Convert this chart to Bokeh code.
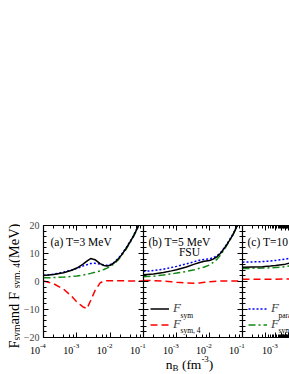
import numpy as np
from bokeh.plotting import figure
from bokeh.layouts import row, column
from bokeh.models import (Range1d, LinearAxis, LogAxis, LogTicker, FixedTicker, Label, Legend,
                          LegendItem, CustomJSTickFormatter)
from bokeh.embed import file_html
from bokeh.resources import INLINE

# ---------------- data ----------------
nB_a = [1e-4, 2e-4, 4e-4, 7e-4, 1e-3, 1.5e-3, 2e-3, 2.6e-3, 3.5e-3, 5e-3, 6.5e-3, 8e-3,
        1e-2, 1.3e-2, 1.7e-2, 2.2e-2, 3e-2, 4e-2, 5e-2, 6.5e-2, 8e-2, 1e-1]
Fsym_a  = [2.1, 2.5, 3.1, 4.0, 4.8, 6.1, 7.3, 8.2, 7.8, 6.4, 5.7, 5.5,
           5.8, 6.6, 7.9, 9.5, 11.8, 14.2, 16.2, 19.0, 21.2, 24.0]
Fpara_a = [2.2, 2.6, 3.3, 4.1, 4.7, 5.5, 6.0, 6.4, 6.5, 6.2, 5.9, 5.8,
           6.0, 6.8, 8.1, 9.7, 12.0, 14.4, 16.4, 19.2, 21.4, 24.2]
FsymV_a = [1.3, 1.4, 1.6, 1.8, 2.0, 2.3, 2.6, 2.9, 3.3, 3.8, 4.3, 4.8,
           5.4, 6.3, 7.6, 9.2, 11.5, 14.0, 16.0, 18.8, 21.0, 23.8]
Fsym4_a = [0.2, -0.8, -2.7, -5.3, -7.3, -9.0, -9.7, -6.8, -3.3, -0.5, 0.2, 0.3,
           0.3, 0.3, 0.3, 0.3, 0.2, 0.2, 0.2, 0.2, 0.2, 0.2]

nB_b = [1e-4, 2e-4, 4e-4, 7e-4, 1e-3, 2e-3, 3.5e-3, 5e-3, 7e-3, 1e-2, 1.3e-2, 1.7e-2,
        2.2e-2, 3e-2, 4e-2, 5e-2, 6.5e-2, 8e-2, 1e-1]
Fsym_b  = [2.4, 2.7, 3.2, 3.8, 4.2, 5.2, 6.2, 6.8, 7.2, 7.5, 8.0, 8.9,
           10.2, 12.3, 14.6, 16.5, 19.2, 21.3, 24.0]
Fpara_b = [3.6, 3.9, 4.4, 5.0, 5.4, 6.3, 7.1, 7.6, 7.9, 8.1, 8.5, 9.2,
           10.4, 12.5, 14.8, 16.7, 19.4, 21.5, 24.2]
FsymV_b = [1.7, 1.9, 2.3, 2.7, 3.0, 3.6, 4.2, 4.7, 5.2, 5.9, 6.8, 8.0,
           9.6, 12.0, 14.4, 16.4, 19.1, 21.2, 24.0]
Fsym4_b = [0.4, 0.3, 0.1, -0.1, -0.3, -0.5, -0.6, -0.5, -0.3, -0.1, 0.0, 0.1,
           0.2, 0.2, 0.2, 0.2, 0.2, 0.2, 0.2]

nB_c = [1e-4, 2e-4, 4e-4, 7e-4, 1e-3, 2e-3, 3.5e-3, 5e-3, 1e-2, 2e-2, 5e-2, 1e-1]
Fsym_c  = [5.1, 5.2, 5.3, 5.5, 5.7, 6.2, 6.9, 7.4, 8.6, 10.8, 16.5, 24.0]
Fpara_c = [6.9, 7.0, 7.1, 7.3, 7.5, 8.0, 8.6, 9.1, 10.2, 12.0, 17.2, 24.3]
FsymV_c = [4.6, 4.7, 4.8, 4.9, 5.0, 5.3, 5.8, 6.2, 7.4, 9.8, 16.0, 23.8]
Fsym4_c = [0.8, 0.8, 0.8, 0.8, 0.8, 0.9, 0.9, 0.9, 0.8, 0.6, 0.4, 0.3]

panel_titles = ["(a) T=3 MeV", "(b) T=5 MeV", "(c) T=10 MeV"]
x_tick_values = [1e-4, 1e-3, 1e-2, 1e-1]
x_tick_exps = ["-4", "-3", "-2", "-1"]
y_ticks = [-20, -10, 0, 10, 20]
y_minor = [-18, -16, -14, -12, -8, -6, -4, -2, 2, 4, 6, 8, 12, 14, 16, 18]

FONT = "Liberation Serif"
BLACK, RED, BLUE, GREEN = "#000000", "#ff0000", "#0000ff", "#118811"

# Times advance widths (per em) for building composite labels
TW = {'F': .556, 's': .389, 'y': .5, 'm': .778, ' ': .25, 'a': .444, 'n': .5, 'd': .5,
      ',': .25, '4': .5, '(': .333, ')': .333, 'M': .889, 'e': .444, 'V': .722,
      'B': .667, 'f': .333, '-': .333, '3': .5}


def twidth(s, size):
    return sum(TW.get(c, .5) for c in s) * size


YS_W = 20                  # width of the strip holding the vertical title
FT, FB = 225, 337          # frame top/bottom on page
BB = 6                     # bottom border of the panels
Y0PIX = 281                # page y of value 0
PXU = (FB - FT) / 40.0     # px per unit
GEOM = {}                  # panel -> (frame left on page, px per decade)


def ydat(py):
    return (Y0PIX - py) / PXU


def make_panel(fw, x_end, left_border, L, dec):
    p = figure(x_axis_type="log", x_range=Range1d(1e-4, x_end), y_range=Range1d(-20, 20),
               frame_width=fw, frame_height=FB - FT, output_backend="svg", toolbar_location=None,
               min_border_left=left_border, min_border_right=0, min_border_top=FT,
               min_border_bottom=BB, x_axis_location=None, y_axis_location=None)
    p.grid.visible = False
    p.outline_line_color = None
    p.background_fill_color = "white"
    p.border_fill_color = "white"
    GEOM[p.id] = (L, dec)
    return p


def make_strip(w, h, xr, yr):
    s = figure(x_range=Range1d(*xr), y_range=Range1d(*yr), frame_width=w, frame_height=h,
               output_backend="svg", toolbar_location=None, min_border=0,
               x_axis_location=None, y_axis_location=None)
    s.grid.visible = False
    s.outline_line_color = None
    s.background_fill_color = "white"
    s.border_fill_color = "white"
    return s


def style_axis(ax, labels=False):
    ax.major_tick_in = 5
    ax.major_tick_out = 0
    ax.minor_tick_in = 3
    ax.minor_tick_out = 0
    ax.axis_line_color = "black"
    ax.axis_line_width = 1.2
    ax.major_tick_line_width = 1
    ax.minor_tick_line_width = 1
    ax.major_label_text_font = FONT
    if labels:
        ax.major_label_text_font_size = "10px"
        ax.major_label_standoff = 4
    else:
        ax.formatter = CustomJSTickFormatter(code="return ''")
        ax.major_label_text_font_size = "1px"
        ax.major_label_standoff = 0


def add_axes(p, left_labels, right_axis):
    sides = [("left", left_labels)] + ([("right", False)] if right_axis else [])
    for place, lab_on in sides:
        ax = LinearAxis(ticker=FixedTicker(ticks=y_ticks, minor_ticks=y_minor))
        style_axis(ax, lab_on)
        p.add_layout(ax, place)
    for place in ("below", "above"):
        ax = LogAxis(ticker=LogTicker())
        style_axis(ax, False)
        p.add_layout(ax, place)


def xdat(p, px):
    L, dec = GEOM[p.id]
    return 10 ** (-4 + (px - L) / dec)


def lab(target, x, y, text, size, style="normal", align="left", baseline="alphabetic", angle=0.0):
    target.add_layout(Label(x=x, y=y, text=text, text_font=FONT, text_font_size=f"{size}px",
                            text_font_style=style, text_align=align, text_baseline=baseline,
                            angle=angle, text_color="black"))


def ptxt(p, px, py, text, size, **kw):
    lab(p, xdat(p, px), ydat(py), text, size, **kw)


def curves(p, nb, fs, fp, fv, f4):
    r_p = p.line(nb, fp, line_color=BLUE, line_width=1.5, line_dash="2 2")
    r_v = p.line(nb, fv, line_color=GREEN, line_width=1.5, line_dash="7 3 2 3")
    r_s = p.line(nb, fs, line_color=BLACK, line_width=1.5)
    r_4 = p.line(nb, f4, line_color=RED, line_width=1.5, line_dash="7 4")
    return r_s, r_4, r_p, r_v


def legend(p, items, subs, locx, locy):
    lg = Legend(items=[LegendItem(label="F", renderers=[r]) for r in items], location=(locx, locy),
                orientation="vertical", glyph_width=19, glyph_height=15, label_height=15,
                spacing=0, padding=0, margin=0, label_standoff=4, border_line_color=None,
                background_fill_alpha=0, label_text_font=FONT, label_text_font_style="italic",
                label_text_font_size="13px")
    p.add_layout(lg)
    L, _ = GEOM[p.id]
    sx = L + locx + 19 + 4 + 7
    for i, s in enumerate(subs):
        cy = FB - locy - 2.5 - 7.5 - 15 * (1 - i)
        ptxt(p, sx, cy + 7.5, s, 7.5)


# ---------------- panel a ----------------
pa = make_panel(100, 1e-1, 38 - YS_W, 38, 100 / 3)
add_axes(pa, True, True)
curves(pa, nB_a, Fsym_a, Fpara_a, FsymV_a, Fsym4_a)
ptxt(pa, 45, 241, panel_titles[0], 11.5)

# ---------------- panel b ----------------
pb = make_panel(99, 1e-1, 0, 138, 33)
add_axes(pb, False, True)
r_s, r_4, r_p, r_v = curves(pb, nB_b, Fsym_b, Fpara_b, FsymV_b, Fsym4_b)
ptxt(pb, 143, 241, panel_titles[1], 11.5)
ptxt(pb, 184, 251, "FSU", 11.5, align="center", baseline="middle")
legend(pb, [r_s, r_4], ["sym", "sym, 4"], 7, 5)

# ---------------- panel c (cut at window edge) ----------------
pc = make_panel(52, 10 ** (-4 + 52 / 33), 0, 237, 33)
add_axes(pc, False, False)
r_s, r_4, r_p, r_v = curves(pc, nB_c, Fsym_c, Fpara_c, FsymV_c, Fsym4_c)
ptxt(pc, 242, 241, panel_titles[2], 11.5)
legend(pc, [r_p, r_v], ["para", "sym, V"], 6, 5)

# ---------------- left strip: vertical axis title ----------------
ys = make_strip(YS_W, 374, (0, YS_W), (374, 0))
ypos = 348
for s, size, shift in (("F", 14.5, 0), ("sym", 9.5, 3.5), (" and F", 14.5, 0), ("sym, 4", 9.5, 3.5), (" (MeV)", 14.5, 0)):
    lab(ys, 13 + shift, ypos, s, size, angle=np.pi / 2)
    ypos -= twidth(s, size)

# ---------------- bottom strip: x tick labels and x title ----------------
XS_TOP = FB + BB
xs = make_strip(289 - YS_W, 374 - XS_TOP, (YS_W, 289), (374, XS_TOP))
for p, ticks, exps in ((pa, x_tick_values, x_tick_exps),
                       (pb, x_tick_values[1:], x_tick_exps[1:]),
                       (pc, x_tick_values[1:2], x_tick_exps[1:2])):
    L, dec = GEOM[p.id]
    for t, e in zip(ticks, exps):
        px = L + (np.log10(t) + 4) * dec
        lab(xs, px + 1.5, 350, "10", 10, align="right")
        lab(xs, px + 1.5, 345.5, e, 7, align="left")

pieces = [("n", 13.5, 0, 0), ("B", 9, 3.5, 3.5), ("(fm", 13.5, 0, 0), ("-3", 9, -6, 0), (")", 13.5, 0, 0)]
total = sum(twidth(s, z) + g for s, z, _, g in pieces)
xpos = 189 - total / 2
for s, size, shift, gap in pieces:
    lab(xs, xpos, 364 + shift, s, size)
    xpos += twidth(s, size) + gap

layout = row(ys, column(row(pa, pb, pc, spacing=0), xs, spacing=0), spacing=0)
open("out.html", "w").write(file_html(layout, INLINE))
